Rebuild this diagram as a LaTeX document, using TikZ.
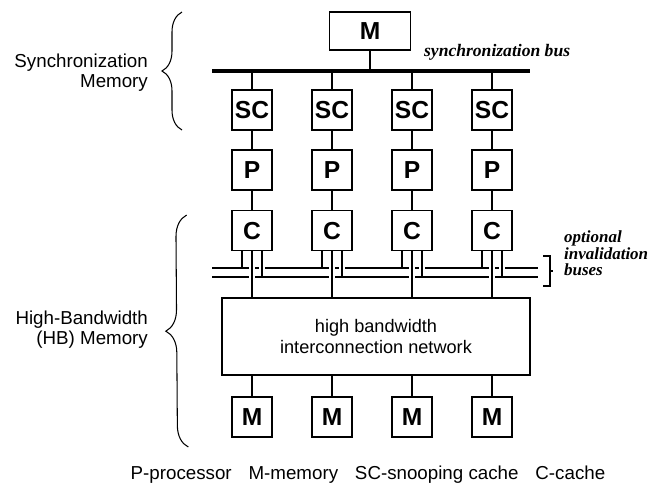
\documentclass[tikz,border=0pt]{standalone}
\usepackage{fontspec}
\setsansfont{Liberation Sans}
\newfontfamily\busfont{Liberation Serif}
\usetikzlibrary{positioning,decorations.pathreplacing,calc}

\begin{document}
\begin{tikzpicture}[
  font=\sffamily\fontsize{16}{17}\selectfont,
  unit/.style={draw, line width=1.4pt, minimum width=12mm, minimum height=12mm, inner sep=0pt,
    font=\sffamily\bfseries\fontsize{21}{21}\selectfont},
  link/.style={line width=1.1pt},
  syncbus/.style={line width=3.5pt},
  invbus/.style={line width=2.2pt},
  cross/.style={draw=white, line width=5pt, postaction={draw=black, line width=1.1pt}},
  memlab/.style={align=right, anchor=east},
  buslab/.style={font=\busfont\bfseries\itshape\fontsize{14.5}{14}\selectfont, align=left, anchor=west},
  grp/.style={decorate, decoration={brace, amplitude=#1}, line width=0.9pt}
]
\useasboundingbox (0,0) rectangle (19.71,-14.88);
% ---------- synchronization memory ----------
\node[unit, minimum width=24.3mm, minimum height=11.4mm] (topm) at (11.1,-0.93) {M};
\coordinate (sbw) at (6.36,-2.13);
\coordinate (sbe) at (15.9,-2.13);
\node[buslab, font=\busfont\bfseries\itshape\fontsize{15}{14}\selectfont] (sblab) at (12.6,-1.56) {synchronization bus};
% ---------- high bandwidth network ----------
\node[unit, minimum width=92.4mm, minimum height=23.1mm, align=center,
  font=\sffamily\fontsize{15.5}{18}\selectfont] (net) at (11.28,-10.095)
  {high bandwidth\\interconnection network};
\coordinate (ib1w) at (6.36,-8.04);
\coordinate (ib1e) at (16.14,-8.04);
\coordinate (ib2w) at (6.36,-8.31);
\coordinate (ib2e) at (16.14,-8.31);
% ---------- processor columns ----------
\foreach \i/\x in {1/7.56, 2/9.96, 3/12.36, 4/14.76} {
  \node[unit] (sc\i) at (\x,-3.3) {SC};
  \node[unit, below=5.6mm of sc\i] (p\i) {P};
  \node[unit, below=5.6mm of p\i] (c\i) {C};
  \node[unit] (m\i) at (\x,-12.51) {M};
  \draw[link] (sc\i) -- (sc\i |- sbw);
  \draw[link] (sc\i) -- (p\i);
  \draw[link] (p\i) -- (c\i);
  \draw[link] ([xshift=-3mm]c\i.south) -- ($(c\i.south |- ib1w)+(-3mm,0)$);
  \draw[link] ([xshift=3mm]c\i.south) -- ($(c\i.south |- ib2w)+(3mm,0)$);
  \draw[link] (c\i) -- (c\i |- net.north);
  \draw[link] (net.south -| m\i) -- (m\i);
}
\draw[link] (topm) -- (topm |- sbw);
\draw[syncbus] (sbw) -- (sbe);
\draw[invbus] (ib1w) -- (ib1e);
\draw[invbus] (ib2w) -- (ib2e);
% crossings
\foreach \i in {1,...,4} {
  \draw[cross] ($(c\i.south |- ib1w)+(0,3pt)$) -- ($(c\i.south |- ib1w)+(0,-3pt)$);
  \draw[cross] ($(c\i.south |- ib2w)+(0,3pt)$) -- ($(c\i.south |- ib2w)+(0,-3pt)$);
  \draw[cross] ($(c\i.south |- ib1w)+(3mm,3pt)$) -- ($(c\i.south |- ib1w)+(3mm,-3pt)$);
}
% ---------- bracket + labels ----------
\draw[line width=1.1pt] (16.3,-7.68) -- (16.5,-7.68) -- (16.5,-8.58) -- (16.3,-8.58);
\draw[line width=1.1pt] (16.5,-8.13) -- (16.58,-8.13);
\node[buslab] (invlab) at (16.8,-7.6) {optional\\invalidation\\buses};
\draw[grp=6mm] (5.46,-3.9) -- (5.46,-0.36);
\draw[grp=6.5mm] (5.65,-13.41) -- (5.6,-6.45);
\node[memlab] (synclab) at (4.56,-2.19) {Synchronization\\Memory};
\node[memlab] (hblab) at (4.56,-9.9) {High-Bandwidth\\(HB) Memory};
% ---------- legend ----------
\node (legend) at (11.04,-14.25) {P-processor\hspace{0.9em}M-memory\hspace{0.9em}SC-snooping cache\hspace{0.9em}C-cache};
\end{tikzpicture}
\end{document}
